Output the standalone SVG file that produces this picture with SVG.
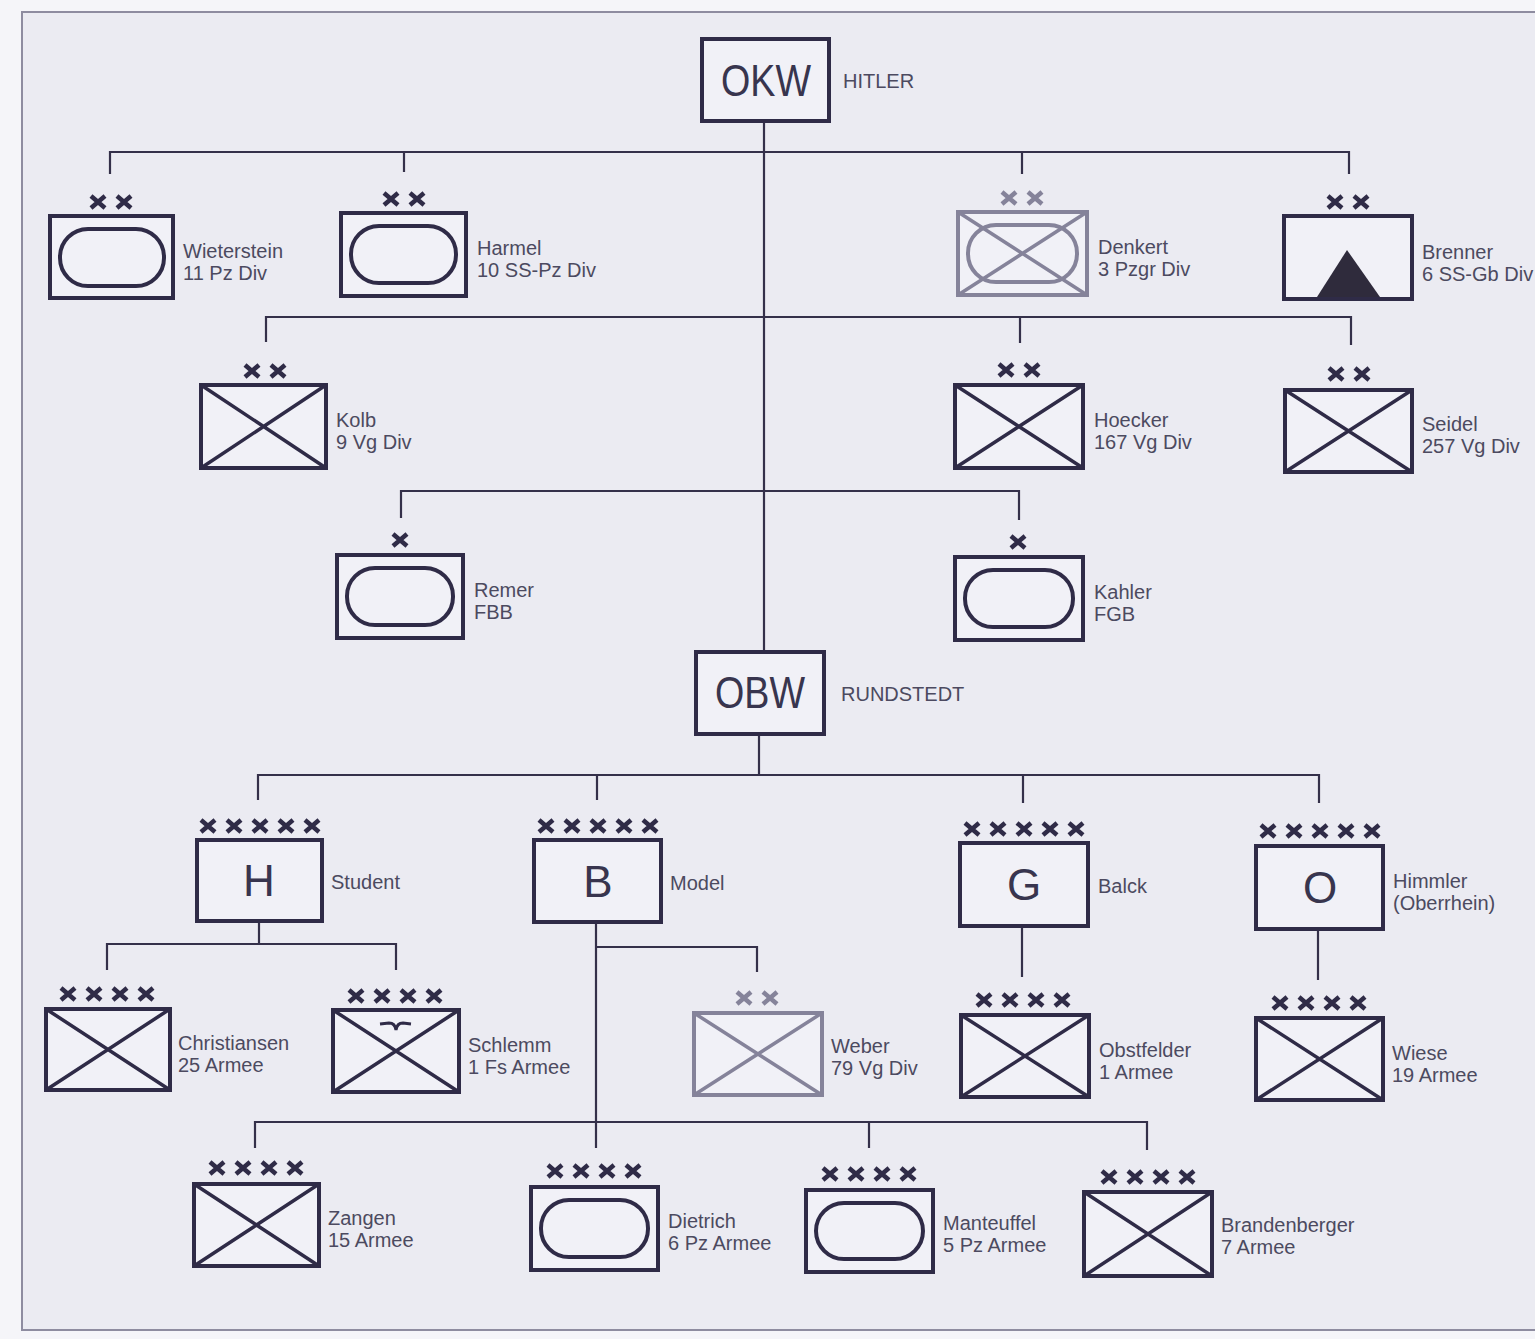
<svg xmlns="http://www.w3.org/2000/svg" xmlns:xlink="http://www.w3.org/1999/xlink" width="1535" height="1339" viewBox="0 0 1535 1339">
<style>
.box{fill:#f1f1f7;stroke:#2f2b47;stroke-width:4}
.gbox{fill:#f1f1f7;stroke:#85839a;stroke-width:4}
.ov{fill:none;stroke:#2f2b47;stroke-width:4}
.gov{fill:none;stroke:#85839a;stroke-width:4}
.dx{fill:none;stroke:#2f2b47;stroke-width:3.5}
.gdx{fill:none;stroke:#85839a;stroke-width:3.5}
.con{fill:none;stroke:#34304a;stroke-width:2.2}
.lbl{font-family:"Liberation Sans",Arial,sans-serif;font-size:20px;fill:#4c4a60}
.big{font-family:"Liberation Sans",Arial,sans-serif;font-size:44px;fill:#38354e;text-anchor:middle}
.mk{fill:none;stroke:#2f2b47;stroke-width:4.5}
.gmk{fill:none;stroke:#85839a;stroke-width:4.5}
</style>
<defs>
<path id="x" d="M-7,-6 L7,6 M7,-6 L-7,6"/>
</defs>
<rect x="0" y="0" width="1535" height="1339" fill="#f5f5f9"/>
<rect x="22" y="12" width="1520" height="1318" fill="#ebebf2"/>
<path d="M1535,12 H22 V1330 H1535" fill="none" stroke="#8e8ca0" stroke-width="2"/>

<g id="connectors">
<path class="con" d="M764,121 V652"/>
<path class="con" d="M110,174 V152 H1349 V174 M404,152 V172 M1022,152 V174"/>
<path class="con" d="M266,342 V317 H1351 V345 M1020,317 V343"/>
<path class="con" d="M401,518 V491 H1019 V520"/>
<path class="con" d="M759,734 V775 M258,800 V775 H1319 V803 M597,775 V800 M1023,775 V803"/>
<path class="con" d="M259,921 V944 M107,970 V944 H396 V970"/>
<path class="con" d="M596,922 V1148 M596,947 H757 V972"/>
<path class="con" d="M1022,926 V977 M1318,929 V980"/>
<path class="con" d="M255,1148 V1122 H1147 V1150 M869,1122 V1148"/>
</g>

<g id="okw">
<rect class="box" x="702" y="39" width="127" height="82"/>
<text class="big" x="766" y="96" textLength="90" lengthAdjust="spacingAndGlyphs">OKW</text>
<text class="lbl" x="843" y="88">HITLER</text>
</g>

<g id="wieterstein">
<g class="mk"><use href="#x" x="98" y="202"/><use href="#x" x="124" y="202"/></g>
<rect class="box" x="50" y="216" width="123" height="82"/>
<rect class="ov" x="60" y="229" width="104" height="57" rx="28"/>
<text class="lbl" x="183" y="258">Wieterstein</text>
<text class="lbl" x="183" y="280">11 Pz Div</text>
</g>

<g id="harmel">
<g class="mk"><use href="#x" x="391" y="199"/><use href="#x" x="417" y="199"/></g>
<rect class="box" x="341" y="213" width="125" height="83"/>
<rect class="ov" x="351" y="226" width="105" height="57" rx="28"/>
<text class="lbl" x="477" y="255">Harmel</text>
<text class="lbl" x="477" y="277">10 SS-Pz Div</text>
</g>

<g id="denkert">
<g class="gmk"><use href="#x" x="1009" y="198"/><use href="#x" x="1035" y="198"/></g>
<rect class="gbox" x="958" y="212" width="129" height="83"/>
<rect class="gov" x="968" y="225" width="109" height="57" rx="28"/>
<path class="gdx" d="M958,212 L1087,295 M1087,212 L958,295"/>
<text class="lbl" x="1098" y="254">Denkert</text>
<text class="lbl" x="1098" y="276">3 Pzgr Div</text>
</g>

<g id="brenner">
<g class="mk"><use href="#x" x="1335" y="202"/><use href="#x" x="1361" y="202"/></g>
<rect class="box" x="1284" y="216" width="128" height="83"/>
<path d="M1317,297 L1347,250 L1380,297 Z" fill="#2f2b3c"/>
<text class="lbl" x="1422" y="259">Brenner</text>
<text class="lbl" x="1422" y="281">6 SS-Gb Div</text>
</g>

<g id="kolb">
<g class="mk"><use href="#x" x="252" y="371"/><use href="#x" x="278" y="371"/></g>
<rect class="box" x="201" y="385" width="125" height="83"/>
<path class="dx" d="M201,385 L326,468 M326,385 L201,468"/>
<text class="lbl" x="336" y="427">Kolb</text>
<text class="lbl" x="336" y="449">9 Vg Div</text>
</g>

<g id="hoecker">
<g class="mk"><use href="#x" x="1006" y="370"/><use href="#x" x="1032" y="370"/></g>
<rect class="box" x="955" y="385" width="128" height="83"/>
<path class="dx" d="M955,385 L1083,468 M1083,385 L955,468"/>
<text class="lbl" x="1094" y="427">Hoecker</text>
<text class="lbl" x="1094" y="449">167 Vg Div</text>
</g>

<g id="seidel">
<g class="mk"><use href="#x" x="1336" y="374"/><use href="#x" x="1362" y="374"/></g>
<rect class="box" x="1285" y="390" width="127" height="82"/>
<path class="dx" d="M1285,390 L1412,472 M1412,390 L1285,472"/>
<text class="lbl" x="1422" y="431">Seidel</text>
<text class="lbl" x="1422" y="453">257 Vg Div</text>
</g>

<g id="remer">
<g class="mk"><use href="#x" x="400" y="540"/></g>
<rect class="box" x="337" y="555" width="126" height="83"/>
<rect class="ov" x="347" y="568" width="106" height="57" rx="28"/>
<text class="lbl" x="474" y="597">Remer</text>
<text class="lbl" x="474" y="619">FBB</text>
</g>

<g id="kahler">
<g class="mk"><use href="#x" x="1018" y="542"/></g>
<rect class="box" x="955" y="557" width="128" height="83"/>
<rect class="ov" x="965" y="570" width="108" height="57" rx="28"/>
<text class="lbl" x="1094" y="599">Kahler</text>
<text class="lbl" x="1094" y="621">FGB</text>
</g>

<g id="obw">
<rect class="box" x="696" y="652" width="128" height="82"/>
<text class="big" x="760" y="708" textLength="90" lengthAdjust="spacingAndGlyphs">OBW</text>
<text class="lbl" x="841" y="701">RUNDSTEDT</text>
</g>

<g id="hg-h">
<g class="mk"><use href="#x" x="208" y="826"/><use href="#x" x="234" y="826"/><use href="#x" x="260" y="826"/><use href="#x" x="286" y="826"/><use href="#x" x="312" y="826"/></g>
<rect class="box" x="197" y="840" width="125" height="81"/>
<text class="big" x="259" y="896">H</text>
<text class="lbl" x="331" y="889">Student</text>
</g>

<g id="hg-b">
<g class="mk"><use href="#x" x="546" y="826"/><use href="#x" x="572" y="826"/><use href="#x" x="598" y="826"/><use href="#x" x="624" y="826"/><use href="#x" x="650" y="826"/></g>
<rect class="box" x="534" y="840" width="127" height="82"/>
<text class="big" x="598" y="897">B</text>
<text class="lbl" x="670" y="890">Model</text>
</g>

<g id="hg-g">
<g class="mk"><use href="#x" x="972" y="829"/><use href="#x" x="998" y="829"/><use href="#x" x="1024" y="829"/><use href="#x" x="1050" y="829"/><use href="#x" x="1076" y="829"/></g>
<rect class="box" x="960" y="843" width="128" height="83"/>
<text class="big" x="1024" y="900">G</text>
<text class="lbl" x="1098" y="893">Balck</text>
</g>

<g id="hg-o">
<g class="mk"><use href="#x" x="1268" y="831"/><use href="#x" x="1294" y="831"/><use href="#x" x="1320" y="831"/><use href="#x" x="1346" y="831"/><use href="#x" x="1372" y="831"/></g>
<rect class="box" x="1256" y="846" width="127" height="83"/>
<text class="big" x="1320" y="903">O</text>
<text class="lbl" x="1393" y="888">Himmler</text>
<text class="lbl" x="1393" y="910">(Oberrhein)</text>
</g>

<g id="christiansen">
<g class="mk"><use href="#x" x="68" y="994"/><use href="#x" x="94" y="994"/><use href="#x" x="120" y="994"/><use href="#x" x="146" y="994"/></g>
<rect class="box" x="46" y="1009" width="124" height="81"/>
<path class="dx" d="M46,1009 L170,1090 M170,1009 L46,1090"/>
<text class="lbl" x="178" y="1050">Christiansen</text>
<text class="lbl" x="178" y="1072">25 Armee</text>
</g>

<g id="schlemm">
<g class="mk"><use href="#x" x="356" y="996"/><use href="#x" x="382" y="996"/><use href="#x" x="408" y="996"/><use href="#x" x="434" y="996"/></g>
<rect class="box" x="333" y="1010" width="126" height="82"/>
<path class="dx" d="M333,1010 L459,1092 M459,1010 L333,1092"/>
<path d="M380,1024 L389,1023 Q395,1023 396,1030 Q397,1023 403,1023 L411,1024" fill="none" stroke="#2f2b47" stroke-width="3"/>
<text class="lbl" x="468" y="1052">Schlemm</text>
<text class="lbl" x="468" y="1074">1 Fs Armee</text>
</g>

<g id="weber">
<g class="gmk"><use href="#x" x="744" y="998"/><use href="#x" x="770" y="998"/></g>
<rect class="gbox" x="694" y="1013" width="128" height="82"/>
<path class="gdx" d="M694,1013 L822,1095 M822,1013 L694,1095"/>
<text class="lbl" x="831" y="1053">Weber</text>
<text class="lbl" x="831" y="1075">79 Vg Div</text>
</g>

<g id="obstfelder">
<g class="mk"><use href="#x" x="984" y="1000"/><use href="#x" x="1010" y="1000"/><use href="#x" x="1036" y="1000"/><use href="#x" x="1062" y="1000"/></g>
<rect class="box" x="961" y="1015" width="128" height="82"/>
<path class="dx" d="M961,1015 L1089,1097 M1089,1015 L961,1097"/>
<text class="lbl" x="1099" y="1057">Obstfelder</text>
<text class="lbl" x="1099" y="1079">1 Armee</text>
</g>

<g id="wiese">
<g class="mk"><use href="#x" x="1280" y="1003"/><use href="#x" x="1306" y="1003"/><use href="#x" x="1332" y="1003"/><use href="#x" x="1358" y="1003"/></g>
<rect class="box" x="1256" y="1018" width="127" height="82"/>
<path class="dx" d="M1256,1018 L1383,1100 M1383,1018 L1256,1100"/>
<text class="lbl" x="1392" y="1060">Wiese</text>
<text class="lbl" x="1392" y="1082">19 Armee</text>
</g>

<g id="zangen">
<g class="mk"><use href="#x" x="217" y="1168"/><use href="#x" x="243" y="1168"/><use href="#x" x="269" y="1168"/><use href="#x" x="295" y="1168"/></g>
<rect class="box" x="194" y="1184" width="125" height="82"/>
<path class="dx" d="M194,1184 L319,1266 M319,1184 L194,1266"/>
<text class="lbl" x="328" y="1225">Zangen</text>
<text class="lbl" x="328" y="1247">15 Armee</text>
</g>

<g id="dietrich">
<g class="mk"><use href="#x" x="555" y="1171"/><use href="#x" x="581" y="1171"/><use href="#x" x="607" y="1171"/><use href="#x" x="633" y="1171"/></g>
<rect class="box" x="531" y="1187" width="127" height="83"/>
<rect class="ov" x="541" y="1200" width="107" height="57" rx="28"/>
<text class="lbl" x="668" y="1228">Dietrich</text>
<text class="lbl" x="668" y="1250">6 Pz Armee</text>
</g>

<g id="manteuffel">
<g class="mk"><use href="#x" x="830" y="1174"/><use href="#x" x="856" y="1174"/><use href="#x" x="882" y="1174"/><use href="#x" x="908" y="1174"/></g>
<rect class="box" x="806" y="1190" width="127" height="82"/>
<rect class="ov" x="816" y="1203" width="107" height="56" rx="28"/>
<text class="lbl" x="943" y="1230">Manteuffel</text>
<text class="lbl" x="943" y="1252">5 Pz Armee</text>
</g>

<g id="brandenberger">
<g class="mk"><use href="#x" x="1109" y="1177"/><use href="#x" x="1135" y="1177"/><use href="#x" x="1161" y="1177"/><use href="#x" x="1187" y="1177"/></g>
<rect class="box" x="1084" y="1192" width="128" height="84"/>
<path class="dx" d="M1084,1192 L1212,1276 M1212,1192 L1084,1276"/>
<text class="lbl" x="1221" y="1232">Brandenberger</text>
<text class="lbl" x="1221" y="1254">7 Armee</text>
</g>
</svg>
